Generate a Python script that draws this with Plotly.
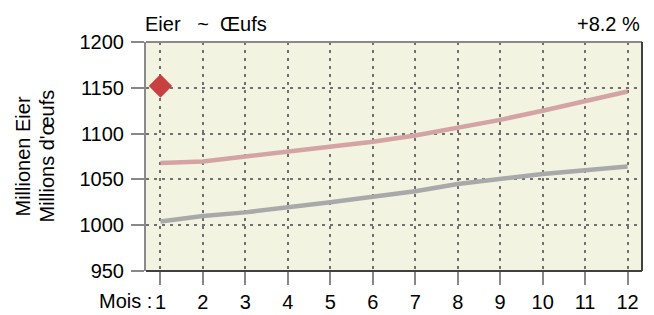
import plotly.graph_objects as go

months = list(range(1, 13))
tick_labels = [str(m) for m in months]
eggs_upper = [1068, 1069.5, 1075, 1080, 1085, 1091, 1098, 1106, 1115, 1125, 1136, 1146]
eggs_lower = [1004, 1010, 1014, 1019, 1025, 1031, 1037, 1045, 1051, 1056, 1060, 1064]
marker_month = [1]
marker_value = [1152]
title_left = "Eier   ~  Œufs"
title_right = "+8.2 %"
y_title_de = "Millionen Eier"
y_title_fr = "Millions d'œufs"
x_prefix = "Mois :"

FONT = "Liberation Sans, Arial, sans-serif"
FS = 20

fig = go.Figure()
fig.add_trace(go.Scatter(x=months, y=eggs_upper, mode="lines",
                         line=dict(color="#d4a3a3", width=4.5), hoverinfo="skip"))
fig.add_trace(go.Scatter(x=months, y=eggs_lower, mode="lines",
                         line=dict(color="#a9a9a9", width=4.5), hoverinfo="skip"))
fig.add_trace(go.Scatter(x=marker_month, y=marker_value, mode="markers",
                         marker=dict(symbol="diamond", size=18, color="#c94040",
                                     line=dict(width=0)), hoverinfo="skip"))

fig.update_layout(
    width=654, height=315,
    margin=dict(l=146, r=12, t=42, b=44),
    paper_bgcolor="white",
    plot_bgcolor="#f3f3e2",
    showlegend=False,
    font=dict(family=FONT, size=FS, color="black"),
    xaxis=dict(range=[0.66, 12.34], tickvals=months, ticktext=tick_labels,
               showgrid=True, gridcolor="#707070", griddash="3px,5px", gridwidth=1.5,
               ticks="outside", ticklen=13, tickwidth=2, tickcolor="#888888",
               showline=False, zeroline=False, tickfont=dict(size=FS),
               automargin=False),
    yaxis=dict(range=[950, 1200], tickvals=[950, 1000, 1050, 1100, 1150, 1200],
               showgrid=True, gridcolor="#707070", griddash="3px,5px", gridwidth=1.5,
               ticks="outside", ticklen=13, tickwidth=2, tickcolor="#888888",
               showline=True, linecolor="#8a8a8a", linewidth=2, zeroline=False,
               tickfont=dict(size=FS), automargin=False, ticklabelstandoff=3),
    shapes=[
        dict(type="line", xref="paper", yref="paper", x0=0, x1=1, y0=1, y1=1,
             line=dict(color="#8a8a8a", width=2)),
        dict(type="line", xref="paper", yref="paper", x0=1, x1=1, y0=0, y1=1,
             line=dict(color="#404040", width=2)),
        dict(type="line", xref="paper", yref="paper", x0=0, x1=1, y0=0, y1=0,
             line=dict(color="#404040", width=2)),
    ],
    annotations=[
        dict(text=title_left, xref="paper", yref="paper", x=0, y=1, xanchor="left",
             yanchor="bottom", yshift=5, xshift=-3, showarrow=False, font=dict(size=FS)),
        dict(text=title_right, xref="paper", yref="paper", x=1, y=1, xanchor="right",
             yanchor="bottom", yshift=5, showarrow=False, font=dict(size=FS)),
        dict(text=x_prefix, xref="x", yref="paper", x=1, y=0, xanchor="right",
             yanchor="top", xshift=-6, yshift=-17, showarrow=False, font=dict(size=FS)),
        dict(text=y_title_de, xref="paper", yref="paper", x=0, y=0.5, xanchor="center",
             yanchor="middle", xshift=-124, textangle=-90, showarrow=False,
             font=dict(size=FS)),
        dict(text=y_title_fr, xref="paper", yref="paper", x=0, y=0.5, xanchor="center",
             yanchor="middle", xshift=-100, textangle=-90, showarrow=False,
             font=dict(size=FS)),
    ],
)

fig.write_html("out.html", config={"displayModeBar": False},
               post_script="document.body.style.margin='0';")
